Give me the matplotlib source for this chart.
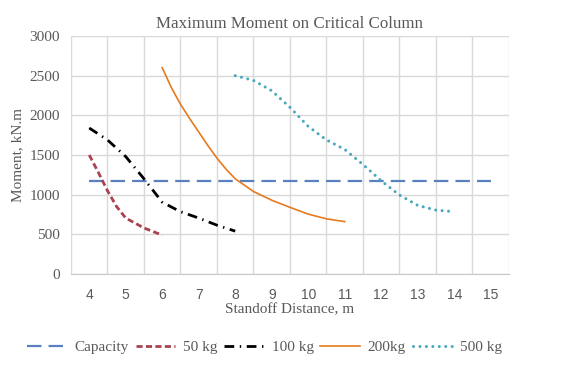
import matplotlib.pyplot as plt

# data
cap_x = [4, 15]
cap_y = [1170, 1170]

x50 = [4, 4.25, 4.5, 4.75, 5, 5.5, 6]
y50 = [1500, 1280, 1050, 850, 705, 580, 490]

x100 = [4, 4.5, 5, 5.5, 6, 6.5, 7, 7.5, 8]
y100 = [1840, 1690, 1480, 1200, 905, 785, 705, 615, 540]

x200 = [6, 6.25, 6.5, 6.75, 7, 7.25, 7.5, 7.75, 8, 8.5, 9, 9.5, 10, 10.5, 11]
y200 = [2600, 2350, 2140, 1960, 1790, 1620, 1460, 1320, 1200, 1040, 930, 840, 755, 695, 660]

x500 = [8, 8.5, 9, 9.5, 10, 10.5, 11, 11.5, 12, 12.5, 13, 13.5, 14]
y500 = [2500, 2440, 2310, 2100, 1860, 1690, 1570, 1380, 1175, 995, 865, 805, 785]

xticks = list(range(4, 16))
yticks = [0, 500, 1000, 1500, 2000, 2500, 3000]

txt = '#595959'
serif = ['Liberation Serif', 'DejaVu Serif']

fig = plt.figure(figsize=(5.88, 3.76), dpi=100)
ax = fig.add_axes([0.1207, 0.2713, 0.7449, 0.633])

ax.plot(cap_x, cap_y, color='#5b80c0', lw=1.6, dashes=(6.5, 3.2), label='Capacity')
ax.plot(x50, y50, color='#a8434f', lw=2.0, dashes=(2.2, 1.2), label='50 kg')
ax.plot(x100, y100, color='black', lw=2.0, dashes=(3.5, 2.0, 0.5, 2.0), label='100 kg')
ax.plot(x200, y200, color='#e57a1e', lw=1.2, label='200kg')
ax.plot(x500, y500, color='#4aa8bd', lw=2.2, linestyle=(0, (0.01, 2.1)),
        dash_capstyle='round', solid_capstyle='round', label='500 kg')

ax.set_xlim(3.5, 15.5)
ax.set_ylim(0, 3000)
ax.set_xticks(xticks)
ax.set_yticks(yticks)
ax.xaxis.set_minor_locator(plt.FixedLocator([v + 0.5 for v in range(3, 16)]))
ax.grid(axis='y', which='major', color='#d9d9d9', lw=1.0)
ax.grid(axis='x', which='minor', color='#d9d9d9', lw=1.0)
ax.set_axisbelow(True)
for s in ['top', 'right', 'left']:
    ax.spines[s].set_visible(False)
ax.spines['bottom'].set_color('#c8c8c8')
ax.tick_params(which='both', length=0)
ax.tick_params(axis='x', pad=10, labelsize=10, labelcolor=txt)
ax.tick_params(axis='y', pad=8, labelsize=11, labelcolor=txt)
for lab in ax.get_yticklabels():
    lab.set_family(serif)
for lab in ax.get_xticklabels():
    lab.set_family(['Liberation Sans', 'DejaVu Sans'])

ax.set_title('Maximum Moment on Critical Column', family=serif, fontsize=12.2,
             color=txt, pad=6)
ax.set_xlabel('Standoff Distance, m', family=serif, fontsize=11, color=txt, labelpad=1)
ax.set_ylabel('Moment, kN.m', family=serif, fontsize=11, color=txt, labelpad=4)

fig.legend(loc='center', bbox_to_anchor=(0.45, 0.077), ncol=5, frameon=False,
           prop={'family': serif, 'size': 11}, labelcolor=txt,
           handlelength=2.6, columnspacing=0.45, handletextpad=0.5)

fig.savefig('out.png', dpi=100)
